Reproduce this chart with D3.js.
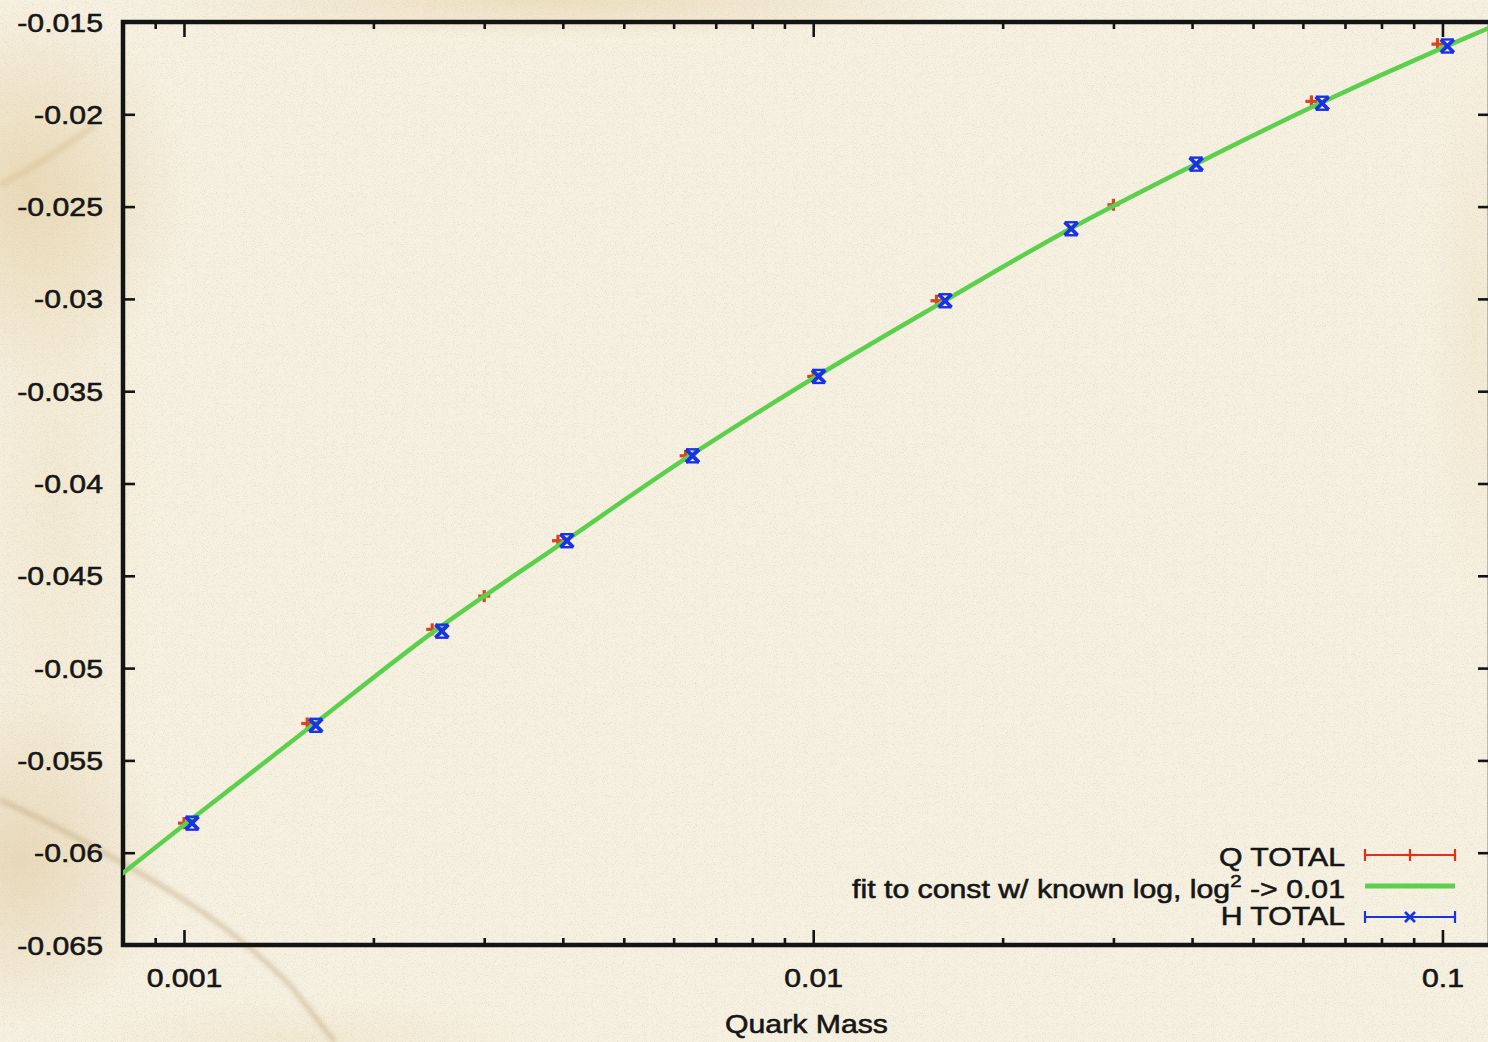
<!DOCTYPE html>
<html>
<head>
<meta charset="utf-8">
<script src="https://cdn.jsdelivr.net/npm/d3@7"></script>
<style>
  html, body { margin: 0; padding: 0; background: #f6f0e0; }
  svg { display: block; }
  text { font-family: "Liberation Sans", Arial, Helvetica, sans-serif; fill: #161616; stroke: #161616; stroke-width: 0.55px; }
</style>
</head>
<body>
<script>
// ---------------- data ----------------
const qMass = [0.001, 0.00157, 0.00248, 0.003, 0.00393, 0.00627, 0.01, 0.0157, 0.03, 0.0619, 0.0982];
const qVal  = [-0.0584, -0.0530, -0.0479, -0.0461, -0.0431, -0.0385, -0.0342, -0.0301, -0.0249, -0.0193, -0.0162];

const hMass = [0.00103, 0.00162, 0.00257, 0.00406, 0.00643, 0.0102, 0.0162, 0.0257, 0.0406, 0.0644, 0.1018];
const hVal  = [-0.0584, -0.0531, -0.0480, -0.0431, -0.0385, -0.0342, -0.0301, -0.0262, -0.0227, -0.0194, -0.0163];

const fitMass = [0.0008, 0.001, 0.0016, 0.0025, 0.004, 0.0063, 0.01, 0.016, 0.025, 0.04, 0.063, 0.1, 0.119];
const fitVal  = [-0.0611, -0.0585, -0.0531, -0.0480, -0.0432, -0.0386, -0.0343, -0.0302, -0.0264, -0.0228, -0.0195, -0.0164, -0.0153];

const yTicks      = [-0.065, -0.06, -0.055, -0.05, -0.045, -0.04, -0.035, -0.03, -0.025, -0.02, -0.015];
const yTickLabels = ["-0.065", "-0.06", "-0.055", "-0.05", "-0.045", "-0.04", "-0.035", "-0.03", "-0.025", "-0.02", "-0.015"];
const xMajor      = [0.001, 0.01, 0.1];
const xMajorLabels = ["0.001", "0.01", "0.1"];
const xMinor      = [0.0009, 0.002, 0.003, 0.004, 0.005, 0.006, 0.007, 0.008, 0.009,
                     0.02, 0.03, 0.04, 0.05, 0.06, 0.07, 0.08, 0.09];
const legendLabels = ["Q TOTAL", "fit to const w/ known log, log", "H TOTAL"];
const xTitle = "Quark Mass";

// ---------------- layout ----------------
const W = 1488, H = 1042;
const L = 123, R = 1490, T = 22, B = 945;
const FS = 25, SX = 1.21;
const ink = "#141414";
const cRed = "#e0301e", cGreen = "#5ccf4c", cBlue = "#1a32e6";

const x = d3.scaleLog().domain([0.0008, 0.119]).range([L, R]);
const y = d3.scaleLinear().domain([-0.065, -0.015]).range([B, T]);

const svg = d3.select("body").append("svg").attr("width", W).attr("height", H);
const defs = svg.append("defs");

// ---------------- parchment background ----------------
const f = defs.append("filter").attr("id", "paper").attr("x", 0).attr("y", 0).attr("width", "100%").attr("height", "100%");
f.append("feTurbulence").attr("type", "fractalNoise").attr("baseFrequency", 0.9).attr("numOctaves", 2).attr("seed", 7).attr("result", "n");
f.append("feColorMatrix").attr("in", "n").attr("type", "matrix")
  .attr("values", "0 0 0 0 0.60  0 0 0 0 0.52  0 0 0 0 0.38  2.6 0 0 0 -1.3");

const blur = defs.append("filter").attr("id", "soft").attr("x", "-20%").attr("y", "-20%").attr("width", "140%").attr("height", "140%");
blur.append("feGaussianBlur").attr("stdDeviation", 2.4);

function radial(id, color, op) {
  const g = defs.append("radialGradient").attr("id", id);
  g.append("stop").attr("offset", "0%").attr("stop-color", color).attr("stop-opacity", op);
  g.append("stop").attr("offset", "100%").attr("stop-color", color).attr("stop-opacity", 0);
}
radial("stainA", "#dcc28c", 0.5);
radial("stainB", "#e0c996", 0.45);
radial("stainC", "#d3b57f", 0.4);
radial("stainD", "#ead9b0", 0.3);

svg.append("rect").attr("width", W).attr("height", H).attr("fill", "#f7f1e2");
svg.append("ellipse").attr("cx", 30).attr("cy", 190).attr("rx", 160).attr("ry", 190).attr("fill", "url(#stainA)");
svg.append("ellipse").attr("cx", 560).attr("cy", 0).attr("rx", 420).attr("ry", 40).attr("fill", "url(#stainB)");
svg.append("ellipse").attr("cx", 20).attr("cy", 860).attr("rx", 150).attr("ry", 170).attr("fill", "url(#stainC)");
svg.append("ellipse").attr("cx", 55).attr("cy", 500).attr("rx", 100).attr("ry", 420).attr("fill", "url(#stainD)");
svg.append("ellipse").attr("cx", 1475).attr("cy", 320).attr("rx", 50).attr("ry", 300).attr("fill", "url(#stainD)");
svg.append("ellipse").attr("cx", 300).attr("cy", 1040).attr("rx", 240).attr("ry", 45).attr("fill", "url(#stainD)");
// crack / fold streaks
svg.append("path").attr("d", "M0,800 C50,822 105,852 160,885 S250,945 290,985 L335,1042")
  .attr("fill", "none").attr("stroke", "#a98757").attr("stroke-width", 3.5).attr("opacity", 0.5).attr("filter", "url(#soft)");
svg.append("path").attr("d", "M0,185 C30,170 60,150 95,125")
  .attr("fill", "none").attr("stroke", "#c8a870").attr("stroke-width", 6).attr("opacity", 0.3).attr("filter", "url(#soft)");
svg.append("rect").attr("width", W).attr("height", H).attr("filter", "url(#paper)").attr("opacity", 0.4);

// ---------------- axes ----------------
function styleTicks(g) {
  g.select(".domain").remove();
  g.selectAll(".tick line").attr("stroke", ink).attr("stroke-width", 2.6);
}

// left
const gL = svg.append("g").attr("transform", `translate(${L},0)`)
  .call(d3.axisLeft(y).tickValues(yTicks).tickFormat((d, i) => yTickLabels[i]).tickSize(-12));
styleTicks(gL);
gL.selectAll(".tick text").attr("x", 0).attr("dy", "0.36em")
  .attr("transform", `translate(-20,0) scale(${SX},1)`)
  .attr("font-size", FS).attr("fill", ink);

// right
const gR = svg.append("g").attr("transform", `translate(${R},0)`)
  .call(d3.axisRight(y).tickValues(yTicks).tickFormat("").tickSize(-12));
styleTicks(gR);

// bottom major + minor
const gB = svg.append("g").attr("transform", `translate(0,${B})`)
  .call(d3.axisBottom(x).tickValues(xMajor).tickFormat((d, i) => xMajorLabels[i]).tickSize(-15));
styleTicks(gB);
gB.selectAll(".tick text").attr("y", 0).attr("dy", 0)
  .attr("transform", `translate(0,42) scale(${SX},1)`)
  .attr("font-size", FS).attr("fill", ink);
const gBm = svg.append("g").attr("transform", `translate(0,${B})`)
  .call(d3.axisBottom(x).tickValues(xMinor).tickFormat("").tickSize(-7));
styleTicks(gBm);

// top major + minor
const gT = svg.append("g").attr("transform", `translate(0,${T})`)
  .call(d3.axisTop(x).tickValues(xMajor).tickFormat("").tickSize(-15));
styleTicks(gT);
const gTm = svg.append("g").attr("transform", `translate(0,${T})`)
  .call(d3.axisTop(x).tickValues(xMinor).tickFormat("").tickSize(-7));
styleTicks(gTm);

// border
svg.append("rect").attr("x", L).attr("y", T).attr("width", R - L).attr("height", B - T)
  .attr("fill", "none").attr("stroke", ink).attr("stroke-width", 4.5);

// axis title
svg.append("g").attr("transform", `translate(${(L + R) / 2},1033) scale(${SX},1)`)
  .append("text").attr("text-anchor", "middle").attr("font-size", FS).text(xTitle);

// ---------------- plot ----------------
defs.append("clipPath").attr("id", "plotclip").append("rect")
  .attr("x", L).attr("y", T).attr("width", R - L).attr("height", B - T);
const plot = svg.append("g").attr("clip-path", "url(#plotclip)");

function plusMark(g, cx, cy, s, color, sw) {
  g.append("line").attr("x1", cx - s).attr("x2", cx + s).attr("y1", cy).attr("y2", cy).attr("stroke", color).attr("stroke-width", sw);
  g.append("line").attr("x1", cx).attr("x2", cx).attr("y1", cy - s).attr("y2", cy + s).attr("stroke", color).attr("stroke-width", sw);
}
function crossMark(g, cx, cy, s, color, sw) {
  g.append("line").attr("x1", cx - s).attr("x2", cx + s).attr("y1", cy - s).attr("y2", cy + s).attr("stroke", color).attr("stroke-width", sw);
  g.append("line").attr("x1", cx - s).attr("x2", cx + s).attr("y1", cy + s).attr("y2", cy - s).attr("stroke", color).attr("stroke-width", sw);
}

// Q TOTAL (red, +) drawn first
const gQ = plot.append("g");
qMass.forEach((m, i) => {
  const cx = x(m), cy = y(qVal[i]);
  plusMark(gQ, cx, cy, 6, "#d8461f", 3.2);
});

// fit line (green)
const fitData = fitMass.map((m, i) => [m, fitVal[i]]);
plot.append("path").datum(fitData)
  .attr("d", d3.line().x(d => x(d[0])).y(d => y(d[1])).curve(d3.curveMonotoneX))
  .attr("fill", "none").attr("stroke", cGreen).attr("stroke-width", 4.5).attr("stroke-linecap", "round");

// H TOTAL (blue, x)
const gH = plot.append("g");
hMass.forEach((m, i) => {
  const cx = x(m), cy = y(hVal[i]);
  crossMark(gH, cx, cy, 6.5, cBlue, 3.8);
  gH.append("line").attr("x1", cx - 6.5).attr("x2", cx + 6.5).attr("y1", cy - 6.5).attr("y2", cy - 6.5).attr("stroke", cBlue).attr("stroke-width", 2.4);
  gH.append("line").attr("x1", cx - 6.5).attr("x2", cx + 6.5).attr("y1", cy + 6.5).attr("y2", cy + 6.5).attr("stroke", cBlue).attr("stroke-width", 2.4);
});

// ---------------- legend ----------------
const lg = svg.append("g");
const textRight = 1345, sx0 = 1365, sx1 = 1455, smid = 1410;
const rowsBase = [866, 898, 925];
const rowsLine = [855, 886, 917];

lg.append("g").attr("transform", `translate(${textRight},${rowsBase[0]}) scale(${SX},1)`)
  .append("text").attr("text-anchor", "end").attr("font-size", FS).text(legendLabels[0]);
const fitText = lg.append("g").attr("transform", `translate(${textRight},${rowsBase[1]}) scale(${SX},1)`)
  .append("text").attr("text-anchor", "end").attr("font-size", FS);
fitText.append("tspan").text(legendLabels[1]);
fitText.append("tspan").attr("font-size", 17).attr("dy", -11).text("2");
fitText.append("tspan").attr("dy", 11).text(" -> 0.01");
lg.append("g").attr("transform", `translate(${textRight},${rowsBase[2]}) scale(${SX},1)`)
  .append("text").attr("text-anchor", "end").attr("font-size", FS).text(legendLabels[2]);

function errSample(yy, color, kind) {
  lg.append("line").attr("x1", sx0).attr("x2", sx1).attr("y1", yy).attr("y2", yy).attr("stroke", color).attr("stroke-width", 2.2);
  [sx0, sx1].forEach(xx => lg.append("line").attr("x1", xx).attr("x2", xx).attr("y1", yy - 6).attr("y2", yy + 6).attr("stroke", color).attr("stroke-width", 2.2));
  if (kind === "+") plusMark(lg, smid, yy, 6, color, 2.2);
  else crossMark(lg, smid, yy, 5, color, 2.6);
}
errSample(rowsLine[0], cRed, "+");
lg.append("line").attr("x1", sx0).attr("x2", sx1).attr("y1", rowsLine[1]).attr("y2", rowsLine[1])
  .attr("stroke", cGreen).attr("stroke-width", 5);
errSample(rowsLine[2], cBlue, "x");
</script>
</body>
</html>
